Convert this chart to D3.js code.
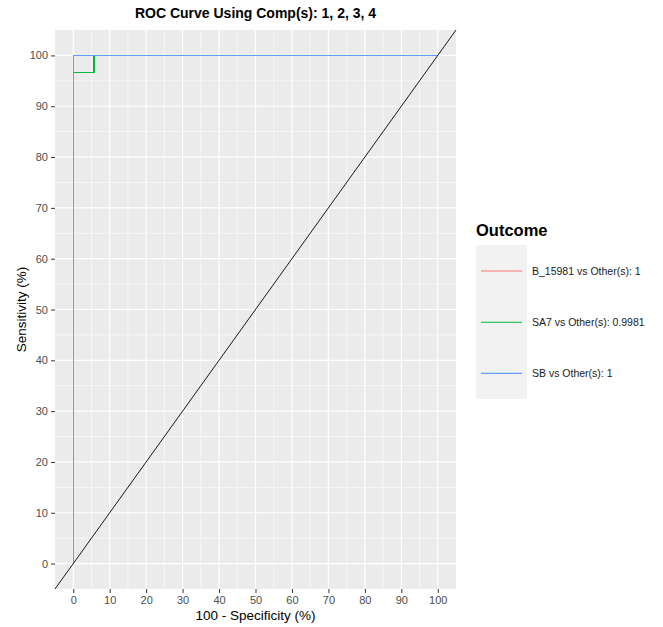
<!DOCTYPE html>
<html>
<head>
<meta charset="utf-8">
<script src="https://cdn.jsdelivr.net/npm/d3@7"></script>
<style>
  body { margin: 0; background: #fff; }
  text { font-family: "Liberation Sans", Arial, sans-serif; }
</style>
</head>
<body>
<div id="chart"></div>
<script>
// ROC step points (100 - specificity, sensitivity)
const fprB = [0, 0, 100];
const tprB = [0, 100, 100];
const fprSA7 = [0, 0, 5.7, 5.7, 100];
const tprSA7 = [0, 96.6, 96.6, 100, 100];
const fprSB = [0, 0, 100];
const tprSB = [0, 100, 100];

const seriesNames = ["B_15981 vs Other(s): 1", "SA7 vs Other(s): 0.9981", "SB vs Other(s): 1"];
const seriesColors = ["#F8766D", "#00BA38", "#619CFF"];
const tickValues = [0, 10, 20, 30, 40, 50, 60, 70, 80, 90, 100];
const minorValues = [5, 15, 25, 35, 45, 55, 65, 75, 85, 95];

const width = 663, height = 627;
const margin = {top: 30, right: 207, bottom: 38, left: 55};
const pw = width - margin.left - margin.right;
const ph = height - margin.top - margin.bottom;

const svg = d3.select('#chart').append('svg')
    .attr('width', width)
    .attr('height', height);

const chart = svg.append('g')
    .attr('transform', `translate(${margin.left},${margin.top})`);

const x = d3.scaleLinear().domain([-5, 105]).range([0, pw]);
const y = d3.scaleLinear().domain([-5, 105]).range([ph, 0]);

// panel
chart.append('rect')
    .attr('width', pw).attr('height', ph)
    .attr('fill', '#EBEBEB');

// minor grid
chart.append('g').selectAll('line')
    .data(minorValues)
    .join('line')
    .attr('x1', d => x(d)).attr('x2', d => x(d))
    .attr('y1', 0).attr('y2', ph)
    .attr('stroke', '#fff').attr('stroke-width', 0.6);
chart.append('g').selectAll('line')
    .data(minorValues)
    .join('line')
    .attr('y1', d => y(d)).attr('y2', d => y(d))
    .attr('x1', 0).attr('x2', pw)
    .attr('stroke', '#fff').attr('stroke-width', 0.6);

// major grid
chart.append('g').selectAll('line')
    .data(tickValues)
    .join('line')
    .attr('x1', d => x(d)).attr('x2', d => x(d))
    .attr('y1', 0).attr('y2', ph)
    .attr('stroke', '#fff').attr('stroke-width', 1.2);
chart.append('g').selectAll('line')
    .data(tickValues)
    .join('line')
    .attr('y1', d => y(d)).attr('y2', d => y(d))
    .attr('x1', 0).attr('x2', pw)
    .attr('stroke', '#fff').attr('stroke-width', 1.2);

// curves, drawn in legend order so SB ends on top
const series = [
    {fpr: fprB, tpr: tprB},
    {fpr: fprSA7, tpr: tprSA7},
    {fpr: fprSB, tpr: tprSB}
];
const line = d3.line().x(d => x(d[0])).y(d => y(d[1]));
series.forEach((s, i) => {
    chart.append('path')
        .datum(s.fpr.map((v, j) => [v, s.tpr[j]]))
        .attr('d', line)
        .attr('fill', 'none')
        .attr('stroke', seriesColors[i])
        .attr('stroke-width', 1.1)
        .attr('shape-rendering', 'crispEdges');
});

// reference diagonal
chart.append('path')
    .datum([[-5, -5], [105, 105]])
    .attr('d', line)
    .attr('fill', 'none')
    .attr('stroke', '#000')
    .attr('stroke-width', 0.9);

// axes
const xAxis = d3.axisBottom(x).tickValues(tickValues).tickSize(4).tickPadding(3);
const yAxis = d3.axisLeft(y).tickValues(tickValues).tickSize(4).tickPadding(3);

const xg = chart.append('g')
    .attr('transform', `translate(0,${ph})`)
    .call(xAxis);
const yg = chart.append('g').call(yAxis);

[xg, yg].forEach(g => {
    g.select('.domain').remove();
    g.selectAll('.tick line').attr('stroke', '#333');
    g.selectAll('.tick text')
        .attr('fill', '#4D4D4D')
        .style('font-size', '11px')
        .style('font-family', '"Liberation Sans", Arial, sans-serif');
});

// titles
svg.append('text')
    .attr('x', margin.left + pw / 2).attr('y', 18)
    .attr('text-anchor', 'middle')
    .style('font-size', '14px').style('font-weight', 'bold')
    .text('ROC Curve Using Comp(s): 1, 2, 3, 4');

svg.append('text')
    .attr('x', margin.left + pw / 2).attr('y', 620)
    .attr('text-anchor', 'middle')
    .style('font-size', '13.5px')
    .text('100 - Specificity (%)');

svg.append('text')
    .attr('transform', `translate(26,${margin.top + ph / 2}) rotate(-90)`)
    .attr('text-anchor', 'middle')
    .style('font-size', '13.5px')
    .text('Sensitivity (%)');

// legend
const legend = svg.append('g').attr('transform', 'translate(476,214)');
legend.append('text')
    .attr('x', 0).attr('y', 22)
    .style('font-size', '16.5px').style('font-weight', 'bold')
    .text('Outcome');
legend.append('rect')
    .attr('x', 0).attr('y', 31)
    .attr('width', 51).attr('height', 154)
    .attr('fill', '#F2F2F2');
const items = legend.selectAll('g.item')
    .data(seriesNames)
    .join('g')
    .attr('transform', (d, i) => `translate(0,${57 + i * 51.2})`);
items.append('line')
    .attr('x1', 5).attr('x2', 46)
    .attr('stroke', (d, i) => seriesColors[i])
    .attr('stroke-width', 1.1);
items.append('text')
    .attr('x', 56).attr('y', 4)
    .style('font-size', '10.5px')
    .attr('fill', '#1a1a1a')
    .text(d => d);
</script>
</body>
</html>
